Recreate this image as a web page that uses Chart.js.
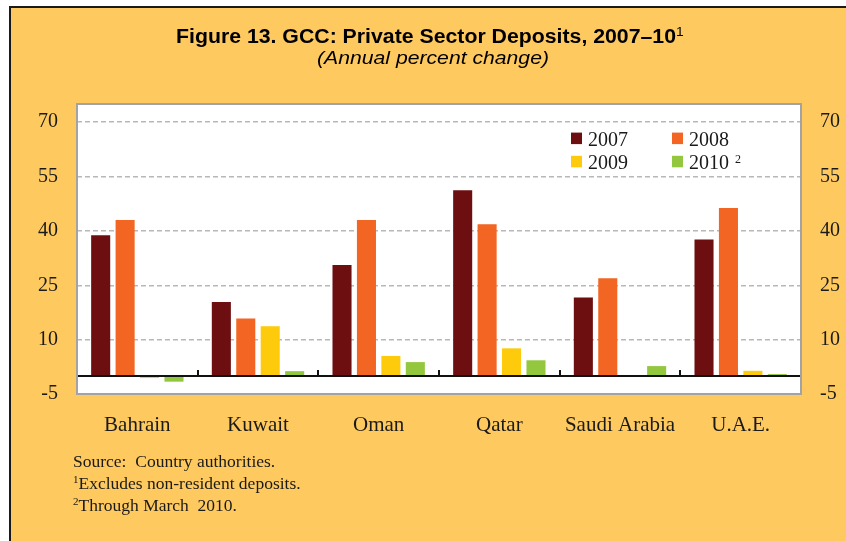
<!DOCTYPE html>
<html><head><meta charset="utf-8">
<script src="https://cdn.jsdelivr.net/npm/chart.js@4.4.1/dist/chart.umd.min.js"></script>
<style>
html,body{margin:0;padding:0;background:#fff;width:846px;height:541px;overflow:hidden;}
#frame{position:absolute;left:9px;top:6px;width:846px;height:541px;background:#fec95f;border-left:2px solid #1a1a1a;border-top:2px solid #1a1a1a;}
#c{position:absolute;left:0;top:0;}
.t{position:absolute;white-space:pre;color:#000;}
#title{font:bold 20px 'Liberation Sans',Arial,sans-serif;line-height:20px;left:176px;top:26.4px;transform-origin:0 0;}
#title sup{font-size:13px;line-height:0;vertical-align:7px;font-weight:normal;}
#sub{font:italic 19px 'Liberation Sans',Arial,sans-serif;line-height:19px;left:317px;top:47.9px;transform-origin:0 0;}
#notes{font:17.5px 'Liberation Serif','Times New Roman',serif;line-height:22px;left:73px;top:449.8px;color:#1a1a1a;}
#notes sup{font-size:11px;line-height:0;vertical-align:6px;}
</style></head>
<body>
<div id="frame"></div>
<canvas id="c" width="846" height="541"></canvas>
<div class="t" id="title"><span id="tmain">Figure 13. GCC: Private Sector Deposits, 2007–10</span><sup>1</sup></div>
<div class="t" id="sub">(Annual percent change)</div>
<div class="t" id="notes">Source:  Country authorities.
<sup>1</sup>Excludes non-resident deposits.
<sup>2</sup>Through March  2010.</div>
<script>
const categories = ['Bahrain', 'Kuwait', 'Oman', 'Qatar', 'Saudi Arabia', 'U.A.E.'];
const seriesLabels = ['2007', '2008', '2009', '2010'];
const seriesNotes = ['', '', '', '2'];
const values2007 = [38.8, 20.4, 30.6, 51.2, 21.6, 37.6];
const values2008 = [43.0, 15.8, 43.0, 41.8, 26.9, 46.3];
const values2009 = [-0.6, 13.7, 5.5, 7.6, 0.2, 1.4];
const values2010 = [-1.6, 1.3, 3.8, 4.3, 2.7, 0.5];
const yTicks = [-5, 10, 25, 40, 55, 70];
const seriesColors = ['#6d0f11', '#f36523', '#fecb0c', '#92c73e'];

// fit title widths to reference
function fit(el, w) {
  const r = el.getBoundingClientRect().width;
  el.style.transform = 'scaleX(' + (w / r) + ')';
}
(function(){
  const tm = document.getElementById('tmain').getBoundingClientRect().width;
  document.getElementById('title').style.transform = 'scaleX(' + (500 / tm) + ')';
  fit(document.getElementById('sub'), 232);
})();

const serif = "'Liberation Serif','Times New Roman',serif";

const framePlugin = {
  id: 'framePlugin',
  beforeDraw(chart) {
    const {ctx, chartArea: a} = chart;
    ctx.save();
    ctx.fillStyle = '#ffffff';
    ctx.fillRect(a.left, a.top, a.right - a.left, a.bottom - a.top);
    ctx.restore();
  },
  afterDatasetsDraw(chart) {
    const {ctx, chartArea: a} = chart;
    const ys = chart.scales.y, xs = chart.scales.x;
    const y0 = ys.getPixelForValue(0);
    ctx.save();
    // zero line
    ctx.strokeStyle = '#111';
    ctx.lineWidth = 2;
    ctx.beginPath();
    ctx.moveTo(a.left, y0);
    ctx.lineTo(a.right, y0);
    ctx.stroke();
    // tick marks between categories
    const n = categories.length;
    const bounds = [a.left];
    for (let i = 0; i < n - 1; i++) bounds.push((xs.getPixelForValue(i) + xs.getPixelForValue(i + 1)) / 2);
    bounds.push(a.right);
    ctx.lineWidth = 2;
    bounds.forEach(b => {
      ctx.beginPath();
      ctx.moveTo(Math.round(b), y0);
      ctx.lineTo(Math.round(b), y0 - 6);
      ctx.stroke();
    });
    // frame
    ctx.strokeStyle = '#a3a3a3';
    ctx.lineWidth = 2;
    ctx.strokeRect(a.left, a.top, a.right - a.left, a.bottom - a.top);
    // legend
    const cols = [571, 672];
    const rows = [138.3, 161.5];
    ctx.textBaseline = 'alphabetic';
    seriesLabels.forEach((lab, i) => {
      const x = cols[i % 2], yc = rows[Math.floor(i / 2)];
      ctx.fillStyle = seriesColors[i];
      ctx.fillRect(x, yc - 5.7, 11, 11.5);
      ctx.fillStyle = '#1a1a1a';
      ctx.font = '20px ' + serif;
      ctx.fillText(lab, x + 17, yc + 7.3);
      if (seriesNotes[i]) {
        const w = ctx.measureText(lab).width;
        ctx.font = '12px ' + serif;
        ctx.fillText(seriesNotes[i], x + 17 + w + 6, yc + 1);
      }
    });
    ctx.restore();
  }
};

const mkSet = (i, data) => ({
  label: seriesLabels[i],
  data: data,
  backgroundColor: seriesColors[i],
  borderWidth: 0,
  categoryPercentage: 0.81,
  barPercentage: 0.78
});

new Chart(document.getElementById('c'), {
  type: 'bar',
  data: {
    labels: categories,
    datasets: [mkSet(0, values2007), mkSet(1, values2008), mkSet(2, values2009), mkSet(3, values2010)]
  },
  plugins: [framePlugin],
  options: {
    responsive: false,
    animation: false,
    devicePixelRatio: 1,
    layout: {padding: {left: 0, right: 0, top: 104, bottom: 87}},
    plugins: {legend: {display: false}, tooltip: {enabled: false}, title: {display: false}},
    scales: {
      x: {
        position: 'bottom',
        grid: {display: false, drawTicks: false},
        border: {display: false},
        ticks: {font: {family: serif, size: 21}, color: '#1a1a1a', padding: 19, maxRotation: 0, autoSkip: false},
        afterFit(s) { s.height = 60; }
      },
      y: {
        position: 'left',
        min: -5, max: 75,
        afterBuildTicks(s) { s.ticks = yTicks.map(v => ({value: v})); },
        afterFit(s) { s.width = 77; },
        grid: {color: '#b8b8b8', lineWidth: 1.5, drawTicks: false},
        border: {display: false, dash: [5, 3]},
        ticks: {font: {family: serif, size: 20}, color: '#1a1a1a', padding: 19}
      },
      y2: {
        position: 'right',
        min: -5, max: 75,
        afterBuildTicks(s) { s.ticks = yTicks.map(v => ({value: v})); },
        afterFit(s) { s.width = 45; },
        grid: {display: false, drawTicks: false},
        border: {display: false},
        ticks: {font: {family: serif, size: 20}, color: '#1a1a1a', padding: 19}
      }
    }
  }
});
</script>
</body></html>
